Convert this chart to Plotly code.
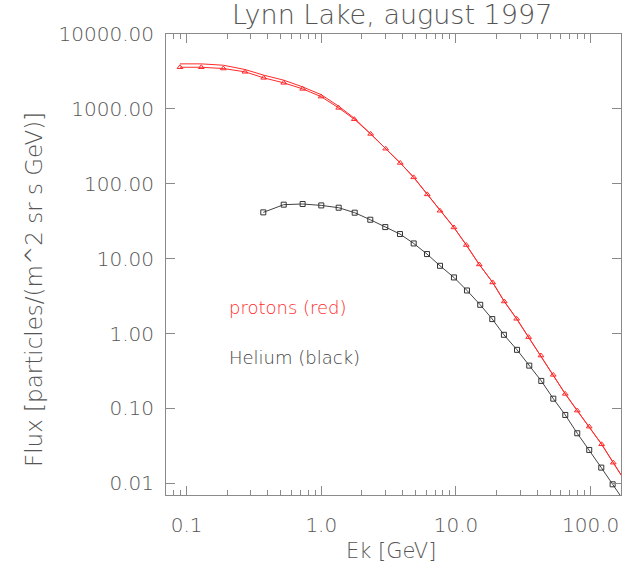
import numpy as np
import plotly.graph_objects as go

# ---- data ----
proton_ek = [0.0893, 0.1285, 0.1873, 0.2715, 0.3736, 0.526, 0.727, 0.995, 1.346, 1.758,
             2.326, 3.007, 3.859, 4.853, 6.12, 7.61, 9.66, 11.93, 14.89, 18.73,
             22.84, 28.22, 34.64, 42.76, 52.76, 64.77, 79.55, 97.6, 120.7, 147.2, 180.0]
proton_flux = [3597, 3597, 3459, 3126, 2597, 2227, 1850, 1460, 1031, 728,
               463, 294, 189.7, 121.8, 72.2, 43.6, 26.1, 15.2, 8.36, 4.81,
               2.68, 1.573, 0.895, 0.508, 0.2806, 0.1563, 0.0935, 0.0571, 0.0332, 0.01884, 0.0107]
proton_flux_upper = [3993, 3993, 3829, 3357, 2821, 2419, 1967, 1552, 1087, 751,
                     463, 294, 189.7, 121.8, 72.2, 43.6, 26.1, 15.2, 8.36, 4.81,
                     2.68, 1.573, 0.895, 0.508, 0.2806, 0.1563, 0.0935, 0.0571, 0.0332, 0.01884, 0.0107]

helium_ek = [0.371, 0.526, 0.727, 1.0, 1.346, 1.770, 2.311, 2.986, 3.839, 4.853,
             6.09, 7.61, 9.66, 12.07, 15.14, 18.6, 22.7, 28.4, 35.0, 43.0,
             52.8, 64.8, 79.5, 97.6, 119.9, 145.6, 180.0]
helium_flux = [41.5, 52.6, 53.7, 51.4, 47.9, 41.1, 33.1, 26.4, 21.3, 15.96,
               11.52, 8.03, 5.61, 3.76, 2.42, 1.56, 0.962, 0.606, 0.373, 0.233,
               0.135, 0.0818, 0.0466, 0.0279, 0.0162, 0.0097, 0.00555]

x_tickvals = [0.1, 1, 10, 100]
x_ticktext = ["0.1", "1.0", "10.0", "100.0"]
y_tickvals = [0.01, 0.1, 1, 10, 100, 1000, 10000]
y_ticktext = ["0.01", "0.10", "1.00", "10.00", "100.00", "1000.00", "10000.00"]

title_text = "Lynn Lake, august 1997"
x_title = "Ek [GeV]"
y_title = "Flux [particles/(m^2 sr s GeV)]"
label_protons = "protons (red)"
label_helium = "Helium (black)"

# ---- styling ----
FONT = "DejaVu Sans"
TXT = "#555555"
AX = "#8a8a8a"
RED = "#ff2a2a"

fig = go.Figure()
fig.add_trace(go.Scatter(x=proton_ek, y=proton_flux_upper, mode="lines",
                         line=dict(color=RED, width=1), showlegend=False))
fig.add_trace(go.Scatter(x=proton_ek, y=proton_flux, mode="lines+markers",
                         line=dict(color=RED, width=1),
                         marker=dict(symbol="triangle-up-open", size=5, color=RED,
                                     line=dict(width=1)),
                         showlegend=False))
fig.add_trace(go.Scatter(x=helium_ek, y=helium_flux, mode="lines+markers",
                         line=dict(color="#444444", width=1),
                         marker=dict(symbol="square-open", size=5, color="#333333",
                                     line=dict(width=1)),
                         showlegend=False))

# minor ticks on x (2..9 per decade)
minor_x = [m * 10.0 ** d for d in range(-2, 3) for m in range(2, 10)]

axis_common = dict(type="log", showline=True, linecolor=AX, linewidth=1, mirror="ticks",
                   ticks="inside", tickcolor=AX, tickwidth=1, showgrid=False, zeroline=False,
                   tickfont=dict(family=FONT, size=20, color=TXT, weight=300))

fig.update_xaxes(**axis_common, range=[np.log10(0.0703), np.log10(168)],
                 tickvals=x_tickvals, ticktext=x_ticktext, ticklen=9,
                 ticklabelstandoff=12,
                 minor=dict(tickvals=minor_x, ticks="inside", ticklen=5, tickcolor=AX, tickwidth=1))
fig.update_yaxes(**axis_common, range=[np.log10(0.00698), 4.0],
                 tickvals=y_tickvals, ticktext=y_ticktext, ticklen=9, ticklabelstandoff=7)

L, T, B, R = 166, 34, 77, 1
W, H = 622, 572
pw, ph = W - L - R, H - T - B


def px(x):
    return (x - L) / pw


def py(y):
    return (H - B - y) / ph


ann = [
    dict(text=title_text, x=px(392), y=py(14), size=27, color=TXT, xanchor="center", angle=0),
    dict(text=x_title, x=px(391), y=py(551), size=21, color=TXT, xanchor="center", angle=0),
    dict(text=y_title, x=px(34), y=py(290), size=23, color=TXT, xanchor="center", angle=-90),
    dict(text=label_protons, x=px(227), y=py(307), size=18, color=RED, xanchor="left", angle=0),
    dict(text=label_helium, x=px(227), y=py(357), size=18, color="#444444", xanchor="left", angle=0),
]
for a in ann:
    fig.add_annotation(text=a["text"], x=a["x"], y=a["y"], xref="paper", yref="paper",
                       xanchor=a["xanchor"], yanchor="middle", showarrow=False,
                       textangle=a["angle"],
                       font=dict(family=FONT, size=a["size"], color=a["color"], weight=300))

fig.update_layout(width=W, height=H, margin=dict(l=L, r=R, t=T, b=B),
                  paper_bgcolor="white", plot_bgcolor="white", showlegend=False)

fig.write_html("out.html")
